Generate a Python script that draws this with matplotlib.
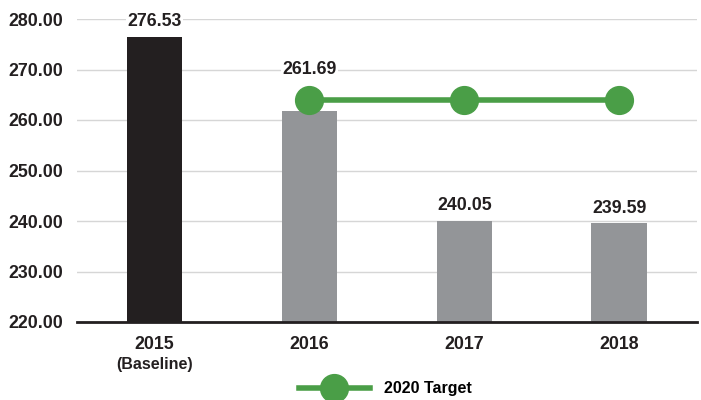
import matplotlib.pyplot as plt
import matplotlib.transforms as mtransforms
import numpy as np

years = ['2015', '2016', '2017', '2018']
sublabels = ['(Baseline)', '', '', '']
values = [276.53, 261.69, 240.05, 239.59]
target_years = ['2016', '2017', '2018']
target = [263.95, 263.95, 263.95]
yticks = [220, 230, 240, 250, 260, 270, 280]

dark = '#231f20'
grey = '#939598'
green = '#4a9e47'

plt.rcParams['font.family'] = ['Liberation Sans', 'DejaVu Sans']
plt.rcParams['font.weight'] = 'bold'
num_size = 12.8
txt_size = 11.5

fig = plt.figure(figsize=(7.01, 4.0), dpi=100)
ax = fig.add_axes([0.11, 0.195, 0.884, 0.7575])

x = np.arange(len(years))
colors = [dark] + [grey] * (len(years) - 1)
ax.bar(x, [v - 220 for v in values], bottom=220, width=0.36, color=colors, zorder=2)

tx = [years.index(y) for y in target_years]
ax.plot(tx, target, color=green, lw=4, marker='o', ms=20, zorder=3, label='2020 Target')

# value labels; 2016 sits above the target marker
for i, v in enumerate(values):
    y = v
    if i == 1:
        y = target[0] + 3.0
    ax.text(i, y + 1.3, f'{v:.2f}', ha='center', va='bottom', color=dark,
            fontsize=num_size, fontweight='bold', zorder=4,
            bbox=dict(facecolor='white', edgecolor='none', pad=1))

ax.set_xlim(-0.5, 3.5)
ax.set_ylim(220, 280)
ax.set_yticks(yticks)
ax.set_yticklabels([f'{t:.2f}' for t in yticks])
ax.set_xticks(x)
ax.set_xticklabels(years)
ax.yaxis.grid(True, color='#d6d6d6', lw=1, zorder=0)
ax.set_axisbelow(True)
ax.tick_params(axis='both', length=0, colors=dark, labelsize=num_size)
ax.tick_params(axis='y', pad=10)
ax.tick_params(axis='x', pad=10)
for s in ['top', 'right', 'left']:
    ax.spines[s].set_visible(False)
ax.spines['bottom'].set_color(dark)
ax.spines['bottom'].set_linewidth(2)
ax.spines['bottom'].set_zorder(5)

trans = mtransforms.blended_transform_factory(ax.transData, ax.transAxes)
for i, s in enumerate(sublabels):
    if s:
        ax.text(i, -0.141, s, transform=trans, ha='center', va='center',
                color=dark, fontsize=txt_size, fontweight='bold')

fig.legend(loc='center', bbox_to_anchor=(0.55, 0.028), frameon=False,
           handlelength=4.4, handletextpad=0.9, fontsize=txt_size)

plt.savefig('out.png', dpi=100)
